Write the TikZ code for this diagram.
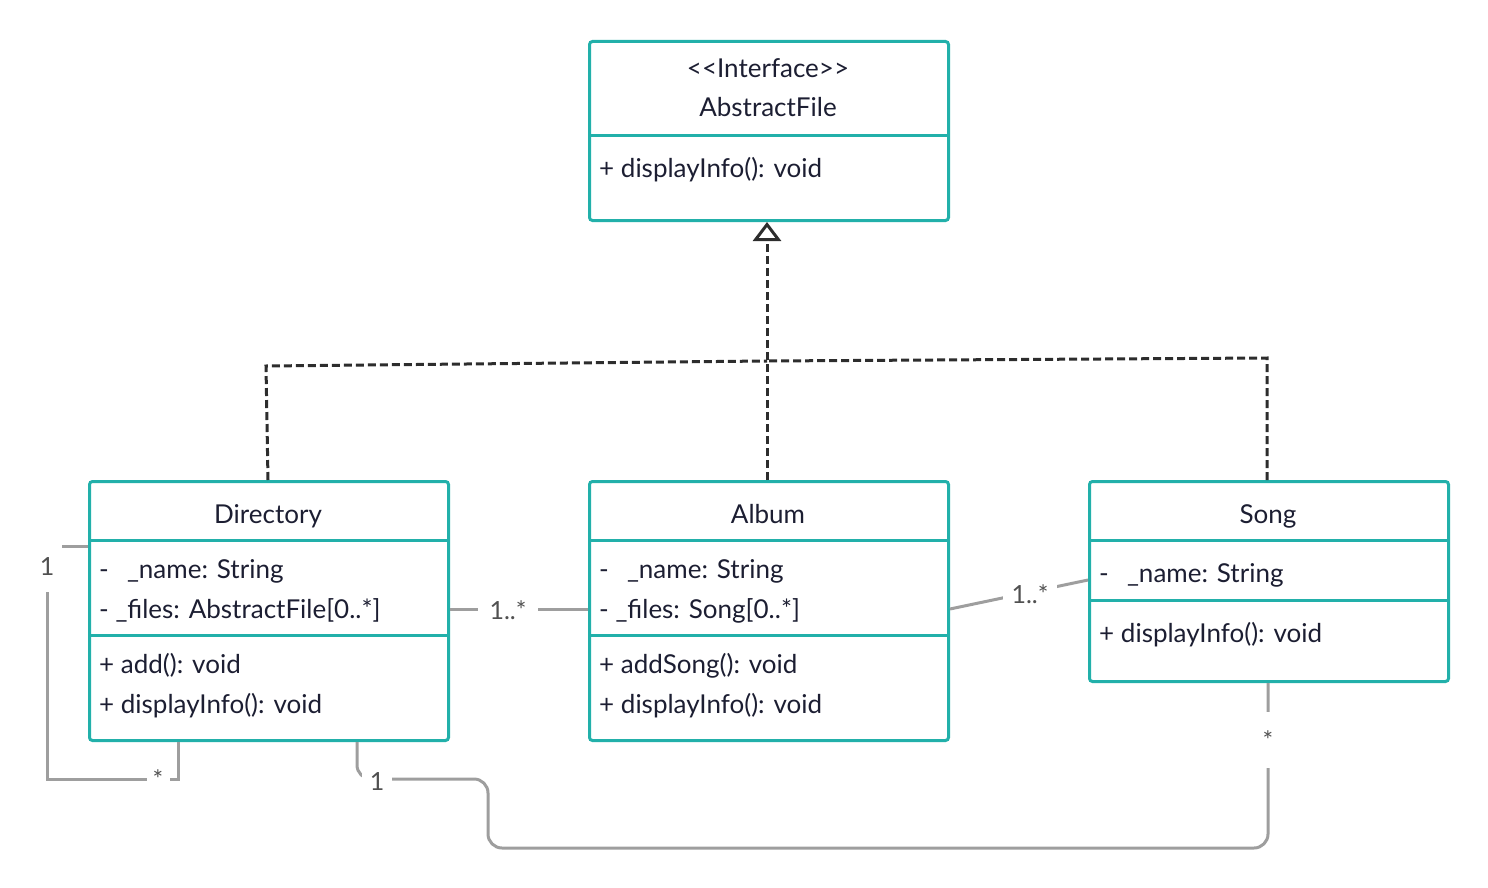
\documentclass[tikz,border=0pt]{standalone}
\usepackage{fontspec}
\setmainfont{Lato}
\usetikzlibrary{arrows.meta}
\definecolor{umlteal}{RGB}{34,176,170}
\definecolor{umltext}{RGB}{28,30,50}
\definecolor{assocgray}{RGB}{158,158,158}
\definecolor{multgray}{RGB}{80,80,80}
\definecolor{dashgray}{RGB}{45,45,45}
\newcommand{\umlfont}{\fontsize{26}{31}\selectfont}
\newcommand{\multfont}{\fontsize{25}{30}\selectfont}
\begin{document}
\begin{tikzpicture}[x=1pt,y=-1pt,
  classbox/.style={draw=umlteal, line width=3pt, rounded corners=3pt, inner sep=0pt, anchor=north west},
  sepline/.style={draw=umlteal, line width=3pt},
  member/.style={anchor=base west, text=umltext, font=\umlfont, inner sep=0pt},
  classname/.style={anchor=base, text=umltext, font=\umlfont, inner sep=0pt},
  assoc/.style={draw=assocgray, line width=3pt},
  mult/.style={fill=white, text=multgray, font=\multfont, inner sep=0pt},
  realize/.style={draw=dashgray, line width=3pt, dash pattern=on 8pt off 4pt}]
\useasboundingbox (0,0) rectangle (1488,888);

% AbstractFile interface
\node[classbox, minimum width=359pt, minimum height=179pt] (abs) at (588,40) {};
\draw[sepline] (abs.west |- 0,136) -- (abs.east |- 0,136);
\node[classname] (absst) at (768,78) {<{}<Interface>{}>};
\node[classname] (absname) at (768,117) {AbstractFile};
\node[member] (absm1) at (599,177) {+ displayInfo(): void};

% Directory
\node[classbox, minimum width=359pt, minimum height=259pt] (dir) at (88,480) {};
\draw[sepline] (dir.west |- 0,540) -- (dir.east |- 0,540);
\draw[sepline] (dir.west |- 0,635) -- (dir.east |- 0,635);
\node[classname] (dirname) at (268,523) {Directory};
\node[member] (dira1) at (99,578) {-\hspace{0.7em}\_name: String};
\node[member] (dira2) at (99,618) {- \_files: AbstractFile[0..*]};
\node[member] (dirm1) at (99,673) {+ add(): void};
\node[member] (dirm2) at (99,713) {+ displayInfo(): void};

% Album
\node[classbox, minimum width=359pt, minimum height=259pt] (alb) at (588,480) {};
\draw[sepline] (alb.west |- 0,540) -- (alb.east |- 0,540);
\draw[sepline] (alb.west |- 0,635) -- (alb.east |- 0,635);
\node[classname] (albname) at (768,523) {Album};
\node[member] (alba1) at (599,578) {-\hspace{0.7em}\_name: String};
\node[member] (alba2) at (599,618) {- \_files: Song[0..*]};
\node[member] (albm1) at (599,673) {+ addSong(): void};
\node[member] (albm2) at (599,713) {+ displayInfo(): void};

% Song
\node[classbox, minimum width=359pt, minimum height=200pt] (song) at (1088,480) {};
\draw[sepline] (song.west |- 0,540) -- (song.east |- 0,540);
\draw[sepline] (song.west |- 0,600) -- (song.east |- 0,600);
\node[classname] (songname) at (1268,523) {Song};
\node[member] (songa1) at (1099,582) {-\hspace{0.7em}\_name: String};
\node[member] (songm1) at (1099,642) {+ displayInfo(): void};

% Realizations of the interface
\coordinate (jl) at (266,366);
\coordinate (jm) at (767,361);
\coordinate (jr) at (1267,358);
\draw[realize] (dir.north -| 268,0) -- (jl) -- (jm);
\draw[realize] (song.north -| 1267,0) -- (jr) -- (jm);
\draw[realize, -{Triangle[open, width=28pt, length=19pt, line width=3pt]}] (alb.north -| 767,0) -- (abs.south -| 767,0);

% Directory self association
\coordinate (dl1) at (47,546);
\coordinate (dl2) at (47,779);
\coordinate (dl3) at (178,779);
\draw[assoc] (dir.west |- 0,546) -- (dl1) -- (dl2) -- (dl3) -- (dir.south -| 178,0);
\node[mult, minimum width=30pt, minimum height=50pt] (dlm1) at (47,567) {1};
\node[mult, minimum width=23pt, minimum height=10pt] (dlm2) at (158,779) {*};

% Directory -- Album
\draw[assoc] (dir.east |- 0,609) -- (alb.west |- 0,609);
\node[mult, minimum width=60pt, minimum height=26pt] (dam) at (508,610) {1..*};

% Album -- Song
\draw[assoc] (alb.east |- 0,609) -- (song.west |- 0,580);
\node[mult, minimum width=54pt, minimum height=18pt] (asm) at (1030,594) {1..*};

% Directory -- Song
\coordinate (ds1) at (357,779);
\coordinate (ds2) at (488,779);
\coordinate (ds3) at (488,848);
\coordinate (ds4) at (1268,848);
\draw[assoc, rounded corners=14pt] (dir.south -| 357,0) -- (ds1) -- (ds2) -- (ds3) -- (ds4) -- (song.south -| 1268,0);
\node[mult, minimum width=30pt, minimum height=26pt] (dsm1) at (377,782) {1};
\node[mult, minimum width=20pt, minimum height=56pt] (dsm2) at (1268,740) {*};
\end{tikzpicture}
\end{document}
